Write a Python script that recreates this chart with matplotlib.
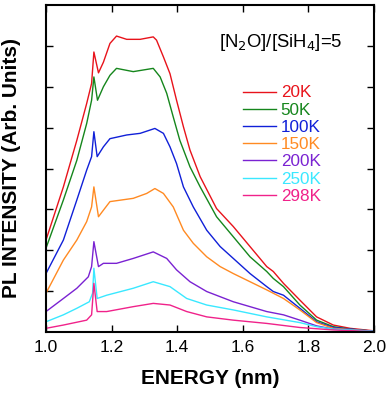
import matplotlib
matplotlib.use("Agg")
import matplotlib.pyplot as plt

plt.rcParams['font.family'] = ['Liberation Sans', 'DejaVu Sans']

labels = ["20K", "50K", "100K", "150K", "200K", "250K", "298K"]
colors = ["#e8131b", "#15861c", "#1020d8", "#ff8a22", "#7a22d2", "#3ae8ff", "#f0228a"]

e_20 = [1.000, 1.053, 1.094, 1.124, 1.139, 1.146, 1.160, 1.175, 1.195, 1.215, 1.246, 1.287, 1.327, 1.337, 1.358, 1.378, 1.398, 1.419, 1.439, 1.470, 1.520, 1.571, 1.622, 1.673, 1.693, 1.724, 1.774, 1.825, 1.876, 1.927, 1.998]
i_20 = [2.25, 3.55, 4.69, 5.59, 6.08, 6.85, 6.34, 6.60, 7.06, 7.24, 7.16, 7.16, 7.22, 7.14, 6.73, 6.32, 5.67, 5.02, 4.45, 3.80, 3.02, 2.58, 2.09, 1.60, 1.48, 1.19, 0.78, 0.37, 0.17, 0.09, 0.03]

e_50 = [1.000, 1.053, 1.094, 1.124, 1.139, 1.146, 1.157, 1.175, 1.195, 1.215, 1.266, 1.327, 1.348, 1.368, 1.388, 1.408, 1.439, 1.470, 1.520, 1.571, 1.622, 1.673, 1.693, 1.724, 1.774, 1.825, 1.876, 1.927, 1.998]
i_50 = [2.05, 3.23, 4.20, 5.10, 5.67, 6.24, 5.67, 6.00, 6.28, 6.45, 6.37, 6.45, 6.24, 5.84, 5.26, 4.69, 4.04, 3.55, 2.82, 2.33, 1.84, 1.48, 1.31, 1.11, 0.66, 0.29, 0.13, 0.07, 0.02]

e_100 = [1.000, 1.053, 1.094, 1.124, 1.139, 1.146, 1.156, 1.175, 1.195, 1.246, 1.287, 1.332, 1.358, 1.378, 1.398, 1.419, 1.449, 1.490, 1.531, 1.571, 1.622, 1.673, 1.693, 1.724, 1.774, 1.825, 1.876, 1.998]
i_100 = [1.43, 2.25, 3.23, 3.96, 4.29, 4.90, 4.29, 4.53, 4.73, 4.82, 4.86, 4.98, 4.86, 4.53, 4.12, 3.55, 3.06, 2.49, 2.09, 1.80, 1.43, 1.11, 0.99, 0.90, 0.58, 0.25, 0.11, 0.02]

e_150 = [1.000, 1.053, 1.094, 1.124, 1.139, 1.146, 1.160, 1.175, 1.195, 1.266, 1.307, 1.332, 1.358, 1.388, 1.419, 1.449, 1.490, 1.531, 1.571, 1.622, 1.673, 1.724, 1.774, 1.825, 1.876, 1.998]
i_150 = [0.95, 1.76, 2.25, 2.70, 3.06, 3.55, 2.82, 2.98, 3.19, 3.27, 3.39, 3.51, 3.39, 3.06, 2.49, 2.17, 1.84, 1.60, 1.43, 1.23, 1.03, 0.82, 0.54, 0.23, 0.09, 0.02]

e_200 = [1.000, 1.053, 1.094, 1.129, 1.139, 1.146, 1.160, 1.175, 1.215, 1.266, 1.327, 1.368, 1.398, 1.439, 1.490, 1.571, 1.673, 1.724, 1.774, 1.825, 1.876, 1.998]
i_200 = [0.50, 0.82, 1.07, 1.35, 1.60, 2.21, 1.60, 1.68, 1.68, 1.80, 1.96, 1.80, 1.52, 1.23, 0.99, 0.74, 0.50, 0.42, 0.29, 0.15, 0.07, 0.02]

e_250 = [1.000, 1.053, 1.094, 1.132, 1.142, 1.146, 1.156, 1.185, 1.266, 1.327, 1.378, 1.429, 1.490, 1.571, 1.673, 1.774, 1.825, 1.876, 1.998]
i_250 = [0.25, 0.42, 0.58, 0.74, 0.95, 1.56, 0.82, 0.90, 1.07, 1.23, 1.11, 0.82, 0.66, 0.54, 0.37, 0.23, 0.13, 0.07, 0.02]

e_298 = [1.000, 1.053, 1.124, 1.139, 1.146, 1.156, 1.185, 1.266, 1.327, 1.378, 1.429, 1.490, 1.571, 1.673, 1.774, 1.876, 1.998]
i_298 = [0.09, 0.17, 0.29, 0.42, 1.19, 0.50, 0.50, 0.62, 0.70, 0.66, 0.50, 0.37, 0.29, 0.21, 0.11, 0.05, 0.01]

energies = [e_20, e_50, e_100, e_150, e_200, e_250, e_298]
intensities = [i_20, i_50, i_100, i_150, i_200, i_250, i_298]

x_ticks = [1.0, 1.2, 1.4, 1.6, 1.8, 2.0]
x_tick_labels = ["1.0", "1.2", "1.4", "1.6", "1.8", "2.0"]

fig = plt.figure(figsize=(3.90, 3.99), dpi=100)
ax = fig.add_axes([46/390, 1 - 332/399, 328/390, 327/399])

for e, i, c, lab in zip(energies, intensities, colors, labels):
    ax.plot(e, i, color=c, lw=1.0, label=lab)

ax.set_xlim(1.0, 2.0)
ax.set_ylim(0, 8)
ax.set_xticks(x_ticks)
ax.set_xticklabels(x_tick_labels, fontsize=12.5)
ax.set_yticks(range(1, 8))
ax.set_yticklabels([])
ax.tick_params(direction='in', top=True, right=True, length=5, width=1, pad=6)
for s in ax.spines.values():
    s.set_linewidth(1.5)

ax.set_xlabel("ENERGY (nm)", fontsize=15, fontweight='bold', labelpad=10)
ax.set_ylabel("PL INTENSITY (Arb. Units)", fontsize=15, fontweight='bold', labelpad=12)

ax.text(0.905, 0.885, "[N$_2$O]/[SiH$_4$]=5", transform=ax.transAxes,
        fontsize=13.3, ha='right', va='center')

leg = ax.legend(loc='upper left', bbox_to_anchor=(0.575, 0.78), frameon=False,
                fontsize=12.3, handlelength=1.9, handletextpad=0.3,
                labelspacing=0.13, labelcolor='linecolor', borderpad=0)

fig.savefig("out.png", dpi=100)
